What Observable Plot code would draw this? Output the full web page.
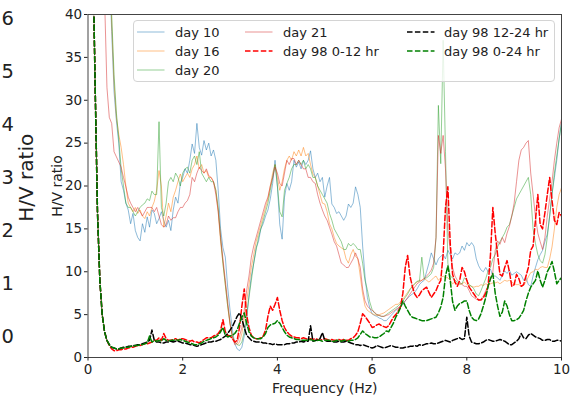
<!DOCTYPE html>
<html>
<head>
<meta charset="utf-8">
<script src="https://cdn.jsdelivr.net/npm/d3@7"></script>
<script src="https://cdn.jsdelivr.net/npm/@observablehq/plot@0.6"></script>
<style>
  body { margin: 0; background: #fff; }
  #chart { position: relative; width: 570px; height: 400px; overflow: hidden; font-family: "DejaVu Sans", sans-serif; }
  #chart > svg { position: absolute; left: 0; top: 0; }
  .legend { position: absolute; left: 133px; top: 20px; width: 422px; height: 62px; box-sizing: border-box;
            border: 1px solid #d4d4d4; border-radius: 4px; background: rgba(255,255,255,0.8); }
  .swatch { position: absolute; }
  .entry { position: absolute; font-size: 13px; color: #222; line-height: 1; white-space: nowrap; transform: translateY(-50%); }
</style>
</head>
<body>
<div id="chart"></div>
<script>
// H/V spectral ratio, 0.10–10.00 Hz sampled every 0.05 Hz
const freq = d3.range(199).map(i => +(0.1 + 0.05 * i).toFixed(2));

const day10 = [
  90, 85, 80, 75, 70, 64, 56, 46, 38, 31,
  27.6, 25.0, 20.5, 19.5, 18.0, 17.2, 15.6, 16.8, 14.8, 14.0,
  13.6, 15.6, 14.6, 16.4, 15.2, 17.2, 16.8, 15.6, 16.2, 17.0,
  16.0, 15.2, 16.0, 14.8, 17.2, 18.7, 18.0, 20.3, 21.0, 22.0,
  21.5, 23.0, 24.9, 23.8, 27.3, 24.5, 23.6, 25.3, 24.2, 25.0,
  23.5, 24.2, 23.0, 19.5, 15.0, 12.8, 11.7, 8.2, 5.5, 3.2,
  1.6, 1.0, 0.8, 1.2, 2.5, 4.3, 7.3, 9.5, 11.0, 12.8,
  13.5, 15.0, 15.6, 16.5, 17.2, 18.5, 20.3, 23.0, 20.0, 15.5,
  13.8, 18.7, 20.3, 19.5, 20.5, 23.0, 22.2, 22.8, 22.0, 23.0,
  22.5, 23.0, 24.1, 22.0, 21.0, 21.5, 20.5, 21.0, 18.7, 20.0,
  21.0, 17.9, 17.5, 16.8, 17.0, 16.5, 16.0, 16.5, 17.9, 17.5,
  18.0, 19.9, 19.0, 17.5, 13.0, 9.5, 7.0, 5.8, 5.1, 4.9,
  4.8, 4.6, 4.5, 4.3, 4.3, 4.6, 4.9, 5.2, 5.5, 5.7,
  5.9, 6.2, 6.6, 6.9, 7.2, 7.4, 7.6, 8.0, 8.5, 8.8,
  9.0, 10.0, 11.0, 12.2, 11.5, 10.8, 11.5, 11.8, 12.0, 11.5,
  12.5, 12.0, 11.5, 12.2, 12.0, 12.2, 13.0, 12.5, 13.4, 13.0,
  13.4, 13.0, 11.5, 10.7, 10.2, 10.0, 10.5, 10.0, 10.3, 9.5,
  9.5, 9.3, 9.0, 9.6, 10.1, 9.8, 10.2, 9.6, 9.8, 10.0,
  9.8, 9.6, 9.0, 9.3, 8.5, 8.3, 9.5, 10.5, 11.4, 12.0,
  12.5, 13.5, 14.4, 16.5, 19.1, 21.0, 23.0, 25.5, 27.5
];

const day16 = [
  95, 90, 85, 80, 74, 67, 58, 48, 39, 32,
  28.0, 26.0, 24.5, 22.5, 20.0, 18.0, 17.5, 17.0, 17.5, 16.8,
  17.2, 16.5, 16.2, 17.0, 16.5, 17.5, 18.2, 19.5, 21.8, 20.0,
  15.2, 16.5, 18.0, 17.0, 18.7, 19.5, 20.5, 21.4, 20.5, 21.0,
  21.5, 21.0, 22.0, 22.5, 23.5, 22.0, 22.5, 21.5, 21.8, 21.0,
  21.0, 20.5, 19.5, 17.0, 13.5, 11.0, 8.5, 6.0, 3.8, 2.5,
  1.8, 1.5, 1.8, 2.8, 4.5, 6.5, 8.5, 10.5, 12.0, 13.5,
  14.5, 15.5, 16.5, 17.5, 18.5, 20.0, 21.5, 22.5, 21.0, 19.5,
  20.5, 22.0, 23.0, 23.5, 23.0, 24.0, 23.5, 24.2, 23.5, 24.5,
  23.5, 23.8, 22.5, 21.4, 21.0, 20.0, 19.0, 18.0, 17.9, 17.0,
  15.6, 15.0, 14.0, 13.3, 13.0, 12.8, 12.6, 11.5, 11.0, 12.0,
  12.6, 11.8, 11.5, 9.5, 7.4, 6.0, 5.5, 5.3, 5.1, 5.0,
  4.9, 5.0, 5.1, 5.2, 5.4, 5.6, 5.8, 6.0, 6.2, 6.2,
  6.5, 6.8, 7.2, 7.6, 8.0, 8.3, 8.6, 8.8, 9.0, 9.0,
  9.2, 9.0, 8.8, 9.0, 9.3, 9.5, 9.0, 9.3, 9.5, 9.3,
  9.3, 9.0, 8.6, 8.8, 8.6, 8.5, 8.6, 8.8, 8.5, 8.4,
  8.3, 8.2, 8.3, 8.3, 8.5, 8.4, 8.6, 8.5, 8.6, 8.7,
  8.7, 8.8, 8.6, 8.8, 9.0, 8.9, 9.0, 8.8, 8.6, 8.5,
  8.5, 8.3, 8.4, 8.8, 9.4, 9.9, 10.0, 10.3, 10.2, 10.5,
  10.6, 10.5, 10.5, 11.5, 12.9, 15.0, 17.5, 19.0, 19.8
];

const day20 = [
  95, 90, 85, 80, 75, 68, 60, 50, 40, 33,
  28.5, 25.5, 22.0, 20.0, 18.0, 17.5, 17.5, 17.0, 16.5, 17.0,
  17.5, 17.8, 18.0, 18.5, 18.3, 19.4, 19.0, 19.0, 27.5, 17.5,
  16.5, 18.0, 20.5, 21.0, 20.5, 21.5, 21.0, 20.0, 21.5, 22.0,
  22.2, 21.5, 23.0, 23.5, 22.5, 24.0, 21.5, 21.0, 20.5, 21.0,
  20.5, 20.5, 19.5, 17.5, 14.0, 11.0, 8.5, 6.0, 4.0, 2.5,
  1.8, 1.5, 1.4, 1.8, 3.0, 5.0, 7.0, 9.0, 11.0, 12.5,
  14.0, 15.0, 16.0, 17.0, 18.0, 19.5, 21.0, 22.5, 20.0, 17.0,
  16.4, 19.5, 20.3, 21.0, 22.0, 22.5, 22.5, 23.0, 22.5, 23.0,
  22.0, 22.5, 22.0, 21.0, 21.0, 20.0, 19.5, 19.0, 18.5, 18.0,
  16.8, 16.0, 15.0, 14.5, 14.0, 13.5, 12.6, 12.6, 13.3, 13.0,
  13.3, 13.0, 12.6, 12.6, 11.0, 9.0, 7.9, 6.5, 5.6, 5.2,
  5.0, 4.9, 4.8, 4.8, 5.0, 5.2, 5.4, 5.6, 5.8, 6.0,
  6.3, 6.6, 7.0, 7.4, 7.9, 8.3, 8.6, 8.9, 8.9, 11.7,
  9.2, 9.3, 9.5, 9.8, 10.5, 14.0, 29.4, 22.6, 37.0, 24.0,
  11.0, 9.5, 9.3, 9.0, 8.8, 8.6, 8.6, 9.3, 9.0, 8.5,
  8.3, 8.0, 7.4, 7.2, 7.8, 8.5, 9.2, 10.1, 10.5, 11.5,
  12.0, 12.9, 13.5, 14.0, 14.5, 15.2, 15.5, 16.5, 17.5, 18.5,
  19.0, 19.5, 20.0, 20.5, 21.0, 19.0, 15.0, 13.3, 12.0, 11.3,
  11.0, 12.0, 14.0, 16.5, 19.0, 21.5, 23.5, 25.5, 27.3
];

const day21 = [
  90, 80, 70, 60, 50, 42, 31.5, 28.0, 27.3, 24.0,
  23.4, 22.8, 22.2, 21.0, 19.9, 18.7, 18.0, 17.5, 17.0, 17.5,
  17.0, 16.5, 17.0, 17.5, 17.5, 17.5, 17.0, 17.5, 16.5, 15.5,
  15.2, 15.5, 16.5, 16.0, 16.3, 16.3, 17.0, 17.5, 17.5, 18.0,
  18.3, 19.0, 21.0, 20.5, 21.5, 22.2, 21.8, 21.5, 22.0, 21.2,
  21.0, 20.5, 19.0, 17.0, 14.0, 11.5, 9.0, 6.5, 4.0, 2.3,
  1.5, 1.7, 2.5, 3.5, 5.5, 7.8, 9.5, 11.7, 13.0, 14.0,
  15.0, 16.0, 17.0, 18.0, 18.7, 20.0, 21.0, 22.2, 21.5, 20.3,
  20.0, 21.5, 23.0, 22.5, 23.2, 23.2, 22.5, 23.0, 22.5, 22.0,
  22.0, 21.0, 21.0, 20.5, 20.3, 19.0, 18.0, 17.2, 16.5, 16.0,
  15.2, 14.4, 13.5, 13.0, 12.0, 11.0, 10.8, 10.5, 10.5, 11.0,
  11.5, 12.2, 11.5, 10.5, 8.0, 6.6, 6.0, 5.7, 5.5, 5.3,
  5.0, 4.9, 4.8, 4.8, 4.9, 5.0, 5.2, 5.4, 5.6, 5.8,
  6.0, 6.3, 6.6, 7.0, 7.4, 7.8, 8.2, 8.6, 8.8, 9.0,
  9.2, 9.5, 9.8, 10.2, 11.0, 14.0, 25.9, 23.8, 25.9, 22.0,
  15.0, 12.5, 10.5, 9.5, 9.0, 8.8, 8.5, 8.3, 8.3, 7.8,
  7.2, 7.0, 6.8, 6.7, 6.8, 7.2, 7.8, 8.3, 9.0, 10.0,
  12.5, 13.6, 13.2, 14.0, 13.4, 14.5, 15.3, 16.5, 18.0, 20.5,
  23.0, 24.2, 24.5, 25.0, 25.3, 21.5, 19.0, 16.4, 14.5, 13.5,
  12.6, 14.0, 16.5, 18.5, 20.5, 23.0, 25.0, 26.8, 27.8
];

const day98a = [
  48, 32, 17, 9.0, 5.0, 3.0, 2.0, 1.4, 1.0, 0.8,
  0.8, 0.9, 0.9, 1.0, 1.0, 1.1, 1.2, 1.2, 1.3, 1.4,
  1.4, 1.5, 1.6, 1.6, 1.7, 1.8, 2.0, 2.0, 2.3, 2.0,
  2.8, 2.2, 2.0, 2.0, 2.1, 2.2, 2.0, 2.2, 2.2, 2.1,
  2.0, 1.9, 2.0, 1.8, 1.8, 1.7, 1.9, 2.1, 2.3, 2.3,
  2.3, 2.5, 2.6, 2.8, 3.2, 4.4, 3.0, 2.6, 2.5, 2.2,
  1.8, 2.0, 3.5, 6.0, 8.0, 5.0, 3.5, 2.6, 2.3, 2.2,
  2.2, 2.3, 2.5, 3.2, 4.8, 6.0, 5.5, 6.2, 7.0, 5.5,
  4.3, 3.5, 3.0, 2.7, 2.5, 2.4, 2.3, 2.3, 2.2, 2.3,
  2.2, 2.1, 2.2, 2.1, 2.2, 2.1, 2.0, 2.1, 2.2, 2.1,
  2.0, 2.1, 2.0, 2.0, 2.1, 2.0, 2.1, 2.0, 2.0, 2.2,
  2.3, 2.6, 3.0, 4.0, 5.1, 4.8, 4.4, 4.0, 3.5, 3.6,
  3.8, 3.9, 3.7, 3.6, 3.5, 3.7, 4.2, 4.7, 5.0, 5.4,
  5.9, 7.5, 10.5, 11.9, 9.5, 8.3, 7.4, 7.0, 7.3, 7.8,
  8.0, 8.2, 7.6, 7.0, 7.4, 7.8, 8.5, 9.0, 12.0, 17.5,
  19.9, 13.3, 9.7, 8.8, 8.3, 9.0, 10.5, 10.0, 9.0, 8.2,
  7.8, 7.4, 7.0, 6.7, 6.7, 7.0, 7.5, 8.3, 12.0, 17.5,
  14.5, 12.0, 9.7, 9.5, 10.5, 11.3, 10.0, 8.3, 8.5, 9.7,
  9.2, 8.3, 8.5, 9.5, 10.5, 12.5, 13.0, 16.0, 19.0, 15.5,
  15.0, 16.9, 19.0, 21.0, 18.3, 16.0, 15.5, 16.9, 16.5
];

const day98b = [
  48, 32, 17, 9.0, 5.0, 3.0, 2.0, 1.5, 1.2, 1.1,
  1.0, 1.0, 1.1, 1.2, 1.2, 1.3, 1.3, 1.4, 1.4, 1.5,
  1.5, 1.6, 1.7, 1.8, 2.0, 3.2, 2.0, 1.8, 1.8, 1.7,
  1.7, 1.8, 1.8, 1.9, 1.8, 1.9, 1.9, 1.8, 1.7, 1.7,
  1.6, 1.5, 1.5, 1.4, 1.3, 1.4, 1.5, 1.6, 1.7, 1.8,
  1.8, 1.9, 1.9, 2.0, 2.1, 2.3, 2.5, 2.8, 3.2, 3.6,
  4.2, 4.8, 5.2, 4.5, 3.5, 2.6, 2.3, 2.0, 1.9, 1.8,
  1.8, 1.8, 1.7, 1.7, 1.6, 1.6, 1.5, 1.6, 1.5, 1.5,
  1.5, 1.5, 1.6, 1.6, 1.7, 1.7, 1.8, 1.8, 1.9, 1.8,
  1.9, 1.9, 3.7, 1.9, 2.0, 2.0, 2.2, 2.9, 2.0, 1.9,
  1.9, 1.9, 1.8, 1.8, 1.9, 1.8, 1.8, 1.9, 1.8, 1.7,
  1.6, 1.5, 1.5, 1.4, 1.5, 1.4, 1.3, 1.2, 1.1, 1.2,
  1.4, 1.3, 1.2, 1.1, 1.2, 1.3, 1.4, 1.3, 1.2, 1.2,
  1.1, 1.1, 1.2, 1.2, 1.3, 1.3, 1.4, 1.3, 1.5, 1.4,
  1.5, 1.6, 1.6, 1.7, 1.6, 1.6, 1.7, 1.8, 1.9, 2.0,
  1.9, 1.8, 2.0, 2.1, 2.2, 2.3, 2.1, 2.2, 4.7, 2.5,
  1.8, 1.7, 1.6, 1.6, 1.7, 1.8, 2.0, 2.1, 2.0, 1.9,
  1.9, 2.0, 2.1, 2.0, 1.9, 1.7, 1.5, 1.5, 1.7, 1.9,
  2.2, 2.8, 2.3, 2.2, 2.6, 2.8, 2.6, 2.4, 2.3, 2.2,
  2.0, 2.0, 2.1, 2.1, 1.9, 1.9, 2.0, 2.0, 1.9
];

const day98c = [
  48, 32, 17, 9.0, 5.0, 3.0, 2.0, 1.5, 1.2, 1.1,
  1.0, 1.0, 1.1, 1.1, 1.2, 1.2, 1.3, 1.3, 1.4, 1.4,
  1.5, 1.5, 1.6, 1.7, 2.5, 1.8, 2.0, 1.9, 2.0, 1.9,
  2.2, 2.0, 1.9, 2.0, 2.0, 2.1, 2.0, 2.1, 2.0, 1.9,
  1.8, 1.7, 1.6, 1.5, 1.5, 1.6, 1.7, 1.9, 2.0, 2.1,
  2.2, 2.3, 2.4, 2.6, 3.0, 3.5, 2.6, 2.4, 2.5, 2.6,
  2.8, 3.2, 4.0, 4.7, 5.2, 4.0, 3.0, 2.5, 2.3, 2.2,
  2.2, 2.2, 2.4, 2.8, 3.5, 3.8, 3.9, 4.0, 4.3, 4.0,
  3.5, 3.0, 2.6, 2.4, 2.3, 2.2, 2.1, 2.1, 2.0, 2.0,
  2.0, 2.0, 2.1, 2.0, 1.9, 2.0, 2.0, 1.9, 2.0, 2.0,
  2.0, 1.9, 1.9, 2.0, 2.0, 1.9, 2.0, 2.0, 1.9, 2.0,
  2.0, 2.1, 2.3, 2.7, 3.1, 2.8, 2.6, 2.4, 2.4, 2.3,
  2.3, 2.4, 2.6, 2.8, 3.1, 3.0, 3.5, 4.0, 4.7, 5.2,
  5.8, 6.6, 6.0, 5.5, 5.0, 4.7, 4.6, 4.5, 4.4, 4.3,
  4.3, 4.3, 4.4, 4.5, 4.6, 4.7, 5.2, 5.9, 7.0, 9.5,
  10.7, 9.0, 6.5, 5.5, 6.0, 6.3, 6.4, 6.6, 6.6, 5.5,
  4.7, 4.4, 4.3, 4.5, 5.1, 6.0, 7.0, 8.3, 9.2, 9.8,
  7.5, 6.0, 4.8, 5.3, 6.6, 6.0, 5.0, 4.3, 4.3, 4.4,
  4.6, 5.0, 5.5, 6.6, 7.5, 8.2, 8.6, 9.0, 10.1, 9.0,
  8.2, 9.0, 10.0, 10.5, 11.2, 10.0, 8.6, 9.0, 9.3
];

const seriesNames = ["day 10", "day 16", "day 20", "day 21", "day 98 0-12 hr", "day 98 12-24 hr", "day 98 0-24 hr"];
const xTicks = [0, 2, 4, 6, 8, 10];
const yTicks = [0, 5, 10, 15, 20, 25, 30, 35, 40];
const ghostTicks = [0, 1, 2, 3, 4, 5, 6];
const xLabel = "Frequency (Hz)";
const yLabel = "H/V ratio";

const styles = [
  {values: day10,  color: "#1f77b4", opacity: 0.5, width: 1,   dash: null},
  {values: day16,  color: "#ff7f0e", opacity: 0.5, width: 1,   dash: null},
  {values: day20,  color: "#2ca02c", opacity: 0.5, width: 1,   dash: null},
  {values: day21,  color: "#d62728", opacity: 0.5, width: 1,   dash: null},
  {values: day98a, color: "#ff0000", opacity: 1,   width: 1.5, dash: "5.5,2.4"},
  {values: day98b, color: "#000000", opacity: 1,   width: 1.5, dash: "5.5,2.4"},
  {values: day98c, color: "#008000", opacity: 1,   width: 1.5, dash: "5.5,2.4"}
].map((s, k) => ({...s, name: seriesNames[k]}));

const chart = document.getElementById("chart");

// tick labels and title of the neighbouring panel's axis, at the left edge
const ghost = Plot.plot({
  width: 44, height: 400,
  marginLeft: 14, marginRight: 0, marginTop: 18.5, marginBottom: 64,
  style: {background: "transparent", fontFamily: "DejaVu Sans", color: "#222", overflow: "visible"},
  y: {domain: [0, 6], axis: null},
  marks: [
    Plot.text(ghostTicks, {y: d => d, text: d => String(d), frameAnchor: "left", textAnchor: "end", dx: -0.5, fontSize: 19.5, fill: "#222"}),
    Plot.text([yLabel], {text: d => d, frameAnchor: "left", textAnchor: "middle", dx: 12, rotate: -90, fontSize: 20, fill: "#222"})
  ]
});
chart.appendChild(ghost);

const main = Plot.plot({
  width: 570, height: 400,
  marginLeft: 87.5, marginRight: 9, marginTop: 14, marginBottom: 43,
  style: {background: "transparent", fontFamily: "DejaVu Sans", color: "#222"},
  x: {domain: [0, 10]},
  y: {domain: [0, 40]},
  marks: [
    ...styles.map(s => Plot.line(s.values, {
      x: (d, i) => freq[i], y: d => d,
      stroke: s.color, strokeOpacity: s.opacity, strokeWidth: s.width,
      strokeDasharray: s.dash || undefined, clip: true
    })),
    Plot.frame({stroke: "#444", strokeWidth: 1}),
    Plot.axisX({ticks: xTicks, tickSize: 3.5, tickPadding: 3, fontSize: 13.5, label: null, tickFormat: d => String(d)}),
    Plot.axisY({ticks: yTicks, tickSize: 3.5, tickPadding: 2.3, fontSize: 13.5, label: null, tickFormat: d => String(d)}),
    Plot.text([yLabel], {text: d => d, frameAnchor: "left", textAnchor: "middle", rotate: -90, dx: -30.5, fontSize: 14, fill: "#222"}),
    Plot.text([xLabel], {text: d => d, frameAnchor: "bottom", lineAnchor: "middle", dy: 31, fontSize: 14, fill: "#222"})
  ]
});
chart.appendChild(main);

// legend: three columns, filled column by column
const legend = document.createElement("div");
legend.className = "legend";
chart.appendChild(legend);
const colSwatch = [137, 245, 407];
const colLabel = [175, 283, 444];
const rowY = [32, 51, 70];
const rowsPerCol = [3, 2, 2];
let k = 0;
rowsPerCol.forEach((n, c) => {
  for (let r = 0; r < n; r++, k++) {
    const s = styles[k];
    const sw = d3.create("svg").attr("class", "swatch")
      .attr("width", 28).attr("height", 10)
      .style("left", colSwatch[c] + "px").style("top", (rowY[r] - 5) + "px");
    sw.append("line").attr("x1", 0).attr("x2", 27.5).attr("y1", 5).attr("y2", 5)
      .attr("stroke", s.color).attr("stroke-opacity", s.opacity).attr("stroke-width", s.width)
      .attr("stroke-dasharray", s.dash);
    chart.appendChild(sw.node());
    const lab = document.createElement("div");
    lab.className = "entry";
    lab.style.left = colLabel[c] + "px";
    lab.style.top = rowY[r] + "px";
    lab.textContent = s.name;
    chart.appendChild(lab);
  }
});
</script>
</body>
</html>
